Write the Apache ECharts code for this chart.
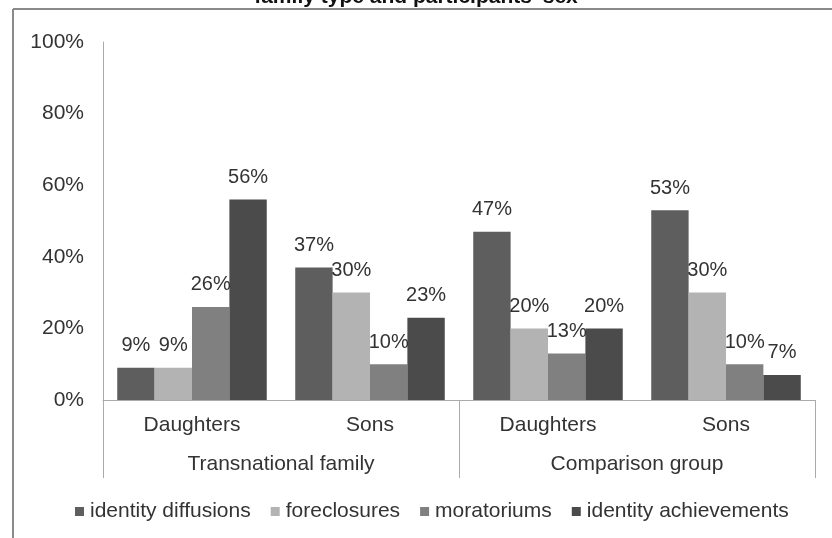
<!DOCTYPE html>
<html>
<head>
<meta charset="utf-8">
<script src="https://cdn.jsdelivr.net/npm/echarts@6/dist/echarts.min.js"></script>
<style>html,body{margin:0;padding:0;background:#fff}#c{width:832px;height:538px}</style>
</head>
<body>
<div id="c"></div>
<script>
const subCategories = ['Daughters', 'Sons', 'Daughters', 'Sons'];
const groupCategories = ['Transnational family', 'Comparison group'];
const identityDiffusions = [9, 37, 47, 53];
const foreclosures = [9, 30, 20, 30];
const moratoriums = [26, 10, 13, 10];
const identityAchievements = [56, 23, 20, 7];
const yTicks = [0, 20, 40, 60, 80, 100];
const seriesNames = ['identity diffusions', 'foreclosures', 'moratoriums', 'identity achievements'];
const seriesColors = ['#5e5e5e', '#b3b3b3', '#808080', '#4b4b4b'];

const FONT = '"Liberation Sans", Arial, sans-serif';
const chart = echarts.init(document.getElementById('c'), null, {renderer: 'canvas'});
const values = [identityDiffusions, foreclosures, moratoriums, identityAchievements];

chart.setOption({
  animation: false,
  backgroundColor: '#fff',
  textStyle: {fontFamily: FONT},
  title: {
    text: "family type and participants' sex",
    left: 'center',
    top: -18,
    textStyle: {fontFamily: FONT, fontSize: 21, fontWeight: 'bold', color: '#111'}
  },
  graphic: [
    {type: 'line', shape: {x1: 13, y1: 9, x2: 832, y2: 9}, style: {stroke: '#8a8a8a', lineWidth: 2}},
    {type: 'line', shape: {x1: 13, y1: 9, x2: 13, y2: 538}, style: {stroke: '#8a8a8a', lineWidth: 2}}
  ],
  legend: {
    bottom: 11,
    left: 70,
    itemWidth: 9,
    itemHeight: 9,
    itemGap: 20,
    icon: 'rect',
    textStyle: {fontFamily: FONT, fontSize: 21, color: '#333', padding: [0, 0, 0, 1]},
    data: seriesNames
  },
  grid: {left: 103, right: 17, top: 42, bottom: 138},
  xAxis: [
    {
      type: 'category',
      data: subCategories,
      axisLine: {show: true, lineStyle: {color: '#aaaaaa', width: 1}},
      axisTick: {show: false},
      axisLabel: {fontFamily: FONT, fontSize: 21, color: '#333', margin: 15, interval: 0}
    },
    {
      type: 'category',
      data: groupCategories,
      position: 'bottom',
      axisLine: {show: false},
      axisTick: {show: true, length: 78, lineStyle: {color: '#aaaaaa', width: 1}},
      axisLabel: {fontFamily: FONT, fontSize: 21, color: '#333', margin: 54, interval: 0}
    }
  ],
  yAxis: {
    type: 'value',
    min: yTicks[0],
    max: yTicks[yTicks.length - 1],
    interval: 20,
    axisLine: {show: true, lineStyle: {color: '#aaaaaa', width: 1}},
    axisTick: {show: false},
    splitLine: {show: false},
    axisLabel: {fontFamily: FONT, fontSize: 21, color: '#333', margin: 19, formatter: '{value}%'}
  },
  series: seriesNames.map((name, i) => ({
    name: name,
    type: 'bar',
    xAxisIndex: 0,
    data: values[i],
    barGap: '0%',
    barCategoryGap: '16%',
    itemStyle: {color: seriesColors[i]},
    label: {
      show: true,
      position: 'top',
      distance: 12,
      formatter: '{c}%',
      fontFamily: FONT,
      fontSize: 20,
      color: '#333'
    }
  }))
});
</script>
</body>
</html>
